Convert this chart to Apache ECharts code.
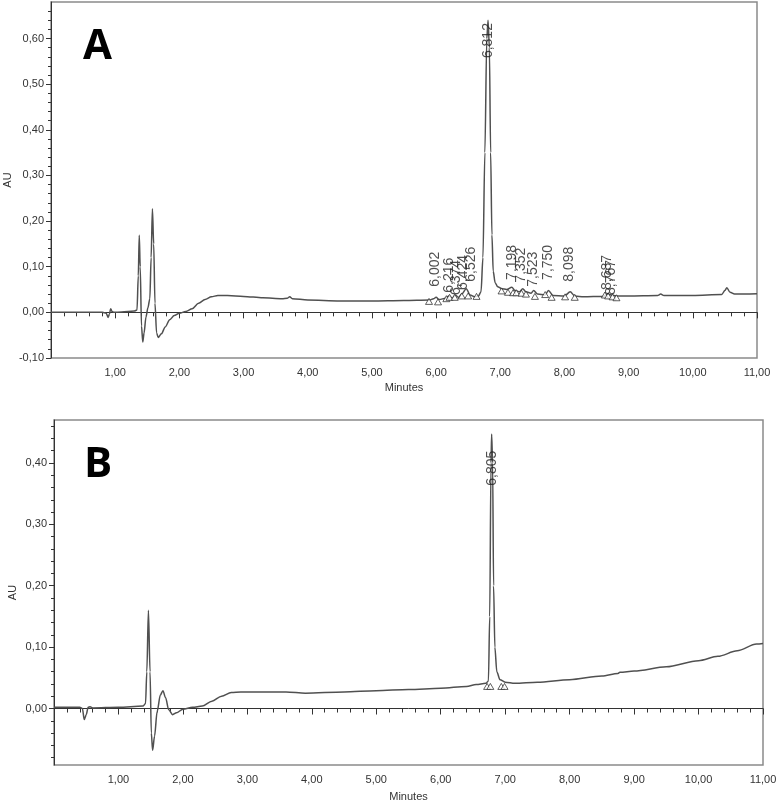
<!DOCTYPE html>
<html>
<head>
<meta charset="utf-8">
<script src="https://cdn.jsdelivr.net/npm/echarts@6/dist/echarts.min.js"></script>
<style>
  html, body { margin: 0; padding: 0; background: #fff; }
  #chart { width: 780px; height: 802px; }
</style>
</head>
<body>
<div id="chart"></div>
<script>
// ---- panel A trace (minutes / AU) ----
const timeA = [0, 0.80, 0.86, 0.89, 0.91, 0.93, 0.95, 0.98, 1.10, 1.30, 1.34, 1.36, 1.375, 1.39, 1.41, 1.43, 1.45, 1.48, 1.51, 1.54, 1.56, 1.58, 1.60, 1.62, 1.645, 1.67, 1.72, 1.78, 1.85, 1.92, 2.00, 2.10, 2.20, 2.30, 2.40, 2.50, 2.60, 2.75, 3.00, 3.30, 3.60, 3.68, 3.72, 3.76, 4.00, 4.50, 5.00, 5.50, 5.90, 5.96, 6.00, 6.05, 6.15, 6.20, 6.25, 6.30, 6.35, 6.40, 6.47, 6.53, 6.60, 6.66, 6.70, 6.73, 6.76, 6.79, 6.81, 6.83, 6.85, 6.87, 6.89, 6.92, 6.96, 7.02, 7.10, 7.18, 7.23, 7.30, 7.35, 7.40, 7.48, 7.52, 7.58, 7.70, 7.75, 7.82, 8.00, 8.09, 8.16, 8.30, 8.60, 8.68, 8.75, 8.85, 9.00, 9.45, 9.50, 9.55, 10.00, 10.45, 10.50, 10.53, 10.58, 10.65, 11.00];
const auA = [0.000, 0.000, -0.002, -0.011, -0.004, 0.008, 0.002, 0.000, 0.001, 0.003, 0.005, 0.080, 0.169, 0.100, -0.030, -0.065, -0.045, -0.010, 0.010, 0.030, 0.120, 0.227, 0.150, 0.020, -0.045, -0.055, -0.047, -0.032, -0.016, -0.007, -0.002, 0.002, 0.008, 0.020, 0.028, 0.034, 0.037, 0.037, 0.035, 0.032, 0.030, 0.031, 0.034, 0.030, 0.027, 0.025, 0.025, 0.026, 0.027, 0.030, 0.033, 0.028, 0.031, 0.036, 0.031, 0.038, 0.033, 0.040, 0.052, 0.038, 0.034, 0.036, 0.045, 0.120, 0.350, 0.600, 0.640, 0.580, 0.350, 0.170, 0.090, 0.065, 0.056, 0.052, 0.050, 0.055, 0.048, 0.045, 0.052, 0.045, 0.042, 0.048, 0.040, 0.038, 0.048, 0.037, 0.036, 0.045, 0.036, 0.034, 0.035, 0.040, 0.037, 0.036, 0.036, 0.037, 0.040, 0.037, 0.037, 0.039, 0.048, 0.054, 0.044, 0.040, 0.041];

// peak labels A (retention time, label foot in AU)
const peakTimeA = [6.002, 6.216, 6.374, 6.424, 6.526, 6.812, 7.198, 7.352, 7.523, 7.750, 8.098, 8.687, 8.767];
const peakLabelX_A = [5.98, 6.21, 6.32, 6.42, 6.55, 6.81, 7.18, 7.33, 7.51, 7.74, 8.08, 8.66, 8.73];
const peakLabelY_A = [0.055, 0.042, 0.037, 0.048, 0.066, 0.556, 0.070, 0.064, 0.055, 0.070, 0.066, 0.048, 0.037];

// integration marks A
const triTimeA = [5.89, 6.03, 6.16, 6.21, 6.29, 6.40, 6.50, 6.63, 7.02, 7.12, 7.20, 7.25, 7.33, 7.40, 7.54, 7.70, 7.80, 8.01, 8.16, 8.63, 8.68, 8.75, 8.81];
const triAuA = [0.024, 0.023, 0.030, 0.033, 0.033, 0.036, 0.036, 0.035, 0.047, 0.044, 0.043, 0.043, 0.042, 0.040, 0.035, 0.039, 0.033, 0.034, 0.033, 0.038, 0.036, 0.034, 0.032];

// ---- panel B trace ----
const timeB = [0, 0.40, 0.44, 0.47, 0.50, 0.53, 0.56, 0.60, 1.00, 1.38, 1.42, 1.44, 1.465, 1.49, 1.51, 1.53, 1.56, 1.60, 1.65, 1.69, 1.73, 1.78, 1.84, 1.90, 2.00, 2.15, 2.30, 2.45, 2.60, 2.75, 2.90, 3.20, 3.60, 3.90, 4.50, 5.00, 5.50, 6.00, 6.40, 6.55, 6.70, 6.74, 6.76, 6.78, 6.79, 6.805, 6.82, 6.84, 6.87, 6.92, 7.00, 7.15, 7.50, 8.00, 8.50, 8.75, 8.78, 9.00, 9.50, 10.00, 10.30, 10.60, 10.90, 11.00];
const auB = [0.002, 0.002, 0.000, -0.018, -0.010, 0.002, 0.003, 0.001, 0.002, 0.004, 0.008, 0.060, 0.160, 0.060, -0.040, -0.068, -0.045, -0.005, 0.022, 0.029, 0.018, -0.002, -0.010, -0.007, -0.001, 0.002, 0.004, 0.012, 0.020, 0.026, 0.027, 0.027, 0.027, 0.025, 0.027, 0.029, 0.031, 0.033, 0.036, 0.039, 0.041, 0.045, 0.150, 0.400, 0.447, 0.400, 0.200, 0.100, 0.060, 0.047, 0.043, 0.041, 0.043, 0.047, 0.053, 0.057, 0.059, 0.061, 0.068, 0.078, 0.085, 0.094, 0.105, 0.106];

const peakTimeB = [6.805];
const peakLabelX_B = [6.80];
const peakLabelY_B = [0.362];

const triTimeB = [6.72, 6.77, 6.94, 6.99];
const triAuB = [0.036, 0.036, 0.036, 0.036];

// axis ticks
const xTicks = [1, 2, 3, 4, 5, 6, 7, 8, 9, 10, 11];
const yTicksA = [-0.1, 0, 0.1, 0.2, 0.3, 0.4, 0.5, 0.6];
const yTicksB = [0, 0.1, 0.2, 0.3, 0.4];

function zip(a, b) {
  return a.map((v, i) => [v, b[i]]);
}
function comma(v, d) {
  return v.toFixed(d).replace('.', ',');
}
function minorSteps(min, max, step) {
  const out = [];
  for (let k = Math.ceil(min / step - 1e-6); k * step <= max + 1e-9; k++) {
    out.push(+(k * step).toFixed(4));
  }
  return out;
}

const FONT = 'Liberation Sans';
const LINE = '#505050';

const grids = [
  { left: 51, top: 2, width: 706, height: 356 },
  { left: 54, top: 420, width: 709, height: 345 }
];
const yRange = [[-0.10, 0.68], [-0.092, 0.47]];
const yMajor = [yTicksA, yTicksB];

let xAxis = [], yAxis = [];
grids.forEach((g, i) => {
  xAxis.push({
    type: 'value', gridIndex: i, min: 0, max: 11, interval: 1,
    name: 'Minutes', nameLocation: 'middle', nameGap: i === 0 ? 24 : 26,
    nameMoveOverlap: false,
    nameTextStyle: { fontFamily: FONT, fontSize: 11, color: '#333' },
    axisLine: { lineStyle: { color: '#333', width: 1 } },
    axisTick: { length: 6, lineStyle: { color: '#333' } },
    minorTick: { show: true, splitNumber: 5, length: 4, lineStyle: { color: '#333' } },
    splitLine: { show: false },
    axisLabel: {
      margin: 9, fontFamily: FONT, fontSize: 11, color: '#333',
      formatter: v => (xTicks.indexOf(v) >= 0 ? comma(v, 2) : '')
    }
  });
  const [mn, mx] = yRange[i];
  yAxis.push({
    type: 'value', gridIndex: i, min: mn, max: mx,
    name: 'AU', nameLocation: 'middle', nameGap: i === 0 ? 38 : 36,
    nameMoveOverlap: false,
    nameTextStyle: { fontFamily: FONT, fontSize: 11, color: '#333' },
    axisLine: { show: true, lineStyle: { color: '#333', width: 1 } },
    axisTick: { show: true, length: 5, customValues: yMajor[i], lineStyle: { color: '#333' } },
    splitLine: { show: false },
    axisLabel: {
      margin: 7, fontFamily: FONT, fontSize: 11, color: '#333',
      customValues: yMajor[i],
      formatter: v => comma(v, 2)
    }
  });
  yAxis.push({
    type: 'value', gridIndex: i, min: mn, max: mx, position: 'left',
    axisLine: { show: false },
    axisTick: { show: true, length: 3, customValues: minorSteps(mn, mx - 0.005, 0.02), lineStyle: { color: '#333' } },
    splitLine: { show: false },
    axisLabel: { show: false }
  });
});

function labelSeries(xi, yi, xs, ys, names) {
  return {
    type: 'scatter', xAxisIndex: xi, yAxisIndex: yi, symbolSize: 1, z: 5,
    itemStyle: { color: 'rgba(0,0,0,0)' },
    data: xs.map((x, k) => ({ value: [x, ys[k]], name: comma(names[k], 3) })),
    label: {
      show: true, position: 'top', distance: 0, rotate: 90,
      align: 'left', verticalAlign: 'middle',
      fontFamily: FONT, fontSize: 14, color: '#222',
      formatter: p => p.name
    },
    labelLayout: { hideOverlap: false },
    emphasis: { disabled: true }
  };
}
function triSeries(xi, yi, xs, ys) {
  return {
    type: 'scatter', xAxisIndex: xi, yAxisIndex: yi, z: 4,
    symbol: 'triangle', symbolSize: [7, 6],
    itemStyle: { color: '#fff', borderColor: '#222', borderWidth: 0.9 },
    data: zip(xs, ys)
  };
}
function traceSeries(xi, yi, xs, ys) {
  return {
    type: 'line', xAxisIndex: xi, yAxisIndex: yi, showSymbol: false,
    smooth: 0.3, smoothMonotone: 'x', z: 3,
    lineStyle: { color: LINE, width: 1.5 },
    data: zip(xs, ys)
  };
}

const option = {
  animation: false,
  backgroundColor: '#fff',
  grid: grids.map(g => Object.assign({
    show: true, borderColor: '#8a8a8a', borderWidth: 1.5, backgroundColor: '#fff',
    containLabel: false, outerBoundsMode: 'none'
  }, g)),
  xAxis: xAxis,
  yAxis: yAxis,
  graphic: [
    { type: 'text', left: 83, top: 26, style: { text: 'A', fontFamily: 'Open Sans', fontWeight: 'bold', fontSize: 42, fill: '#000' } },
    { type: 'text', left: 84, top: 444, style: { text: 'B', fontFamily: 'Open Sans', fontWeight: 'bold', fontSize: 42, fill: '#000' } }
  ],
  series: [
    traceSeries(0, 0, timeA, auA),
    triSeries(0, 0, triTimeA, triAuA),
    labelSeries(0, 0, peakLabelX_A, peakLabelY_A, peakTimeA),
    traceSeries(1, 2, timeB, auB),
    triSeries(1, 2, triTimeB, triAuB),
    labelSeries(1, 2, peakLabelX_B, peakLabelY_B, peakTimeB)
  ]
};

const chart = echarts.init(document.getElementById('chart'));
chart.setOption(option);
</script>
</body>
</html>
